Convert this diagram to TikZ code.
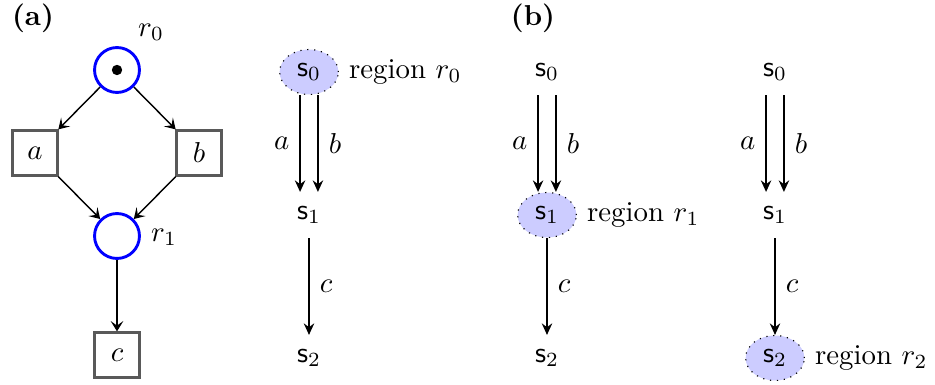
\documentclass[tikz,border=0pt]{standalone}
\usetikzlibrary{arrows.meta,shapes.geometric}
\begin{document}
\begin{tikzpicture}[x=0.3472pt,y=-0.3472pt,
  place/.style={circle,draw=blue,line width=1pt,minimum size=15.6pt,inner sep=0pt},
  trans/.style={rectangle,draw=black!65,line width=1pt,minimum size=15.4pt,inner sep=0pt},
  parc/.style={-{Stealth[length=3.6pt,width=4.4pt,inset=1.6pt]},line width=0.5pt},
  state/.style={ellipse,minimum width=20.4pt,minimum height=15.6pt,inner sep=0pt},
  hl/.style={state,draw,dotted,fill=blue!20},
  tarc/.style={-{Stealth[length=4pt,width=3.6pt]},line width=0.85pt},
  lbl/.style={font=\bfseries}]
\useasboundingbox (0,0) rectangle (935,385);
% labels
\node[lbl] (la) at (33,18) {(a)};
\node[lbl] (lb) at (533,18) {(b)};
% Petri net
\node[place] (r0) at (117,70) {};
\fill (r0.center) circle (1.8pt);
\node (r0l) at (151,32) {$r_0$};
\node[trans] (a) at (35,153) {$a$};
\node[trans] (b) at (199,153) {$b$};
\node[place] (r1) at (117,236) {};
\node (r1l) at (164,237) {$r_1$};
\node[trans] (c) at (117,355) {$c$};
\draw[parc] (r0) -- (a);
\draw[parc] (r0) -- (b);
\draw[parc] (a) -- (r1);
\draw[parc] (b) -- (r1);
\draw[parc] (r1) -- (c);
% TS (a)
\node[hl] (A0) at (309,72) {$\mathsf{s}_0$};
\node[anchor=west] (A0r) at (A0.east) {region $r_0$};
\node[state] (A1) at (309,215) {$\mathsf{s}_1$};
\node[state] (A2) at (309,358) {$\mathsf{s}_2$};
\draw[tarc] ([xshift=-3.1pt]A0.south) -- node[left] {$a$} ([xshift=-3.1pt]A1.north);
\draw[tarc] ([xshift=3.1pt]A0.south) -- node[right] {$b$} ([xshift=3.1pt]A1.north);
\draw[tarc] (A1) -- node[right] {$c$} (A2);
% TS (b) 1
\node[state] (B0) at (547,72) {$\mathsf{s}_0$};
\node[hl] (B1) at (547,215) {$\mathsf{s}_1$};
\node[anchor=west] (B1r) at (B1.east) {region $r_1$};
\node[state] (B2) at (547,358) {$\mathsf{s}_2$};
\draw[tarc] ([xshift=-3.1pt]B0.south) -- node[left] {$a$} ([xshift=-3.1pt]B1.north);
\draw[tarc] ([xshift=3.1pt]B0.south) -- node[right] {$b$} ([xshift=3.1pt]B1.north);
\draw[tarc] (B1) -- node[right] {$c$} (B2);
% TS (b) 2
\node[state] (C0) at (775,72) {$\mathsf{s}_0$};
\node[state] (C1) at (775,215) {$\mathsf{s}_1$};
\node[hl] (C2) at (775,358) {$\mathsf{s}_2$};
\node[anchor=west] (C2r) at (C2.east) {region $r_2$};
\draw[tarc] ([xshift=-3.1pt]C0.south) -- node[left] {$a$} ([xshift=-3.1pt]C1.north);
\draw[tarc] ([xshift=3.1pt]C0.south) -- node[right] {$b$} ([xshift=3.1pt]C1.north);
\draw[tarc] (C1) -- node[right] {$c$} (C2);
\end{tikzpicture}
\end{document}
